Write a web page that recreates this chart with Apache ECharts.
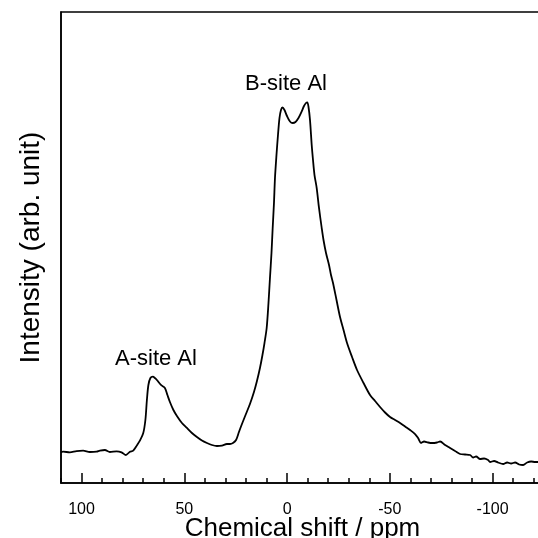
<!DOCTYPE html>
<html>
<head>
<meta charset="utf-8">
<script src="https://cdn.jsdelivr.net/npm/echarts@6/dist/echarts.min.js"></script>
<style>html,body{margin:0;padding:0;background:#fff}#c{width:538px;height:538px}</style>
</head>
<body>
<div id="c"></div>
<script>
// Chemical shift (ppm) and intensity (arb. unit, 0-100 scale)
var shiftPpm = [
  110.08, 108.96, 105.7, 102.43, 99.22, 95.96, 92.70, 91.09, 88.66, 86.22, 82.96, 80.53, 78.43, 76.48, 74.88,
  72.93, 71.62, 70.01, 68.94, 68.21, 67.48, 66.50, 65.29, 64.31, 63.34, 61.39, 59.45, 58.23, 57.01, 55.31,
  53.60, 51.17, 48.73, 46.30, 43.87, 41.43, 39.00, 36.57, 34.13, 31.70, 29.26, 27.80, 26.34, 24.83, 23.42,
  21.96, 20.02, 18.07, 16.12, 14.66, 13.20, 11.98, 11.00, 9.93, 9.05, 8.33, 7.59, 7.01, 6.38, 5.89,
  5.16, 4.43, 3.70, 2.97, 2.24, 1.27, 0.05, -1.41, -2.73, -4.09, -5.55, -7.01, -8.23, -9.20, -9.83,
  -10.42, -11.15, -11.98, -12.61, -13.34, -14.41, -15.53, -16.85, -17.72, -18.94, -20.40, -21.37, -22.35, -24.05, -25.76,
  -27.46, -29.17, -31.60, -34.03, -37.20, -40.36, -42.80, -45.23, -47.67, -50.10, -52.54, -54.97, -57.40, -59.84, -62.27,
  -63.73, -65.19, -66.65, -68.60, -70.55, -72.98, -74.44, -76.87, -79.31, -81.74, -84.17, -86.61, -89.04, -90.50, -91.96,
  -93.91, -95.86, -97.81, -98.78, -100.73, -102.67, -105.11, -107.06, -109.00, -110.95, -112.90, -114.85, -116.80, -118.75, -120.69,
  -123.13
];
var intensity = [
  6.58, 6.65, 6.52, 6.79, 6.86, 6.58, 6.65, 6.86, 7.01, 6.58, 6.73, 6.52, 5.94, 6.65, 6.86,
  8.07, 8.98, 10.55, 13.38, 17.62, 20.81, 22.29, 22.57, 22.29, 21.87, 20.81, 20.17, 18.68, 17.20, 15.50,
  14.23, 12.74, 11.68, 10.62, 9.77, 9.02, 8.49, 8.07, 7.86, 7.96, 8.28, 8.28, 8.49, 9.13, 10.83,
  12.53, 14.65, 16.77, 19.32, 21.66, 24.42, 27.18, 29.72, 32.91, 38.22, 43.52, 48.83, 54.14, 59.45, 64.76,
  69.64, 73.89, 77.49, 79.19, 79.72, 79.19, 77.92, 76.75, 76.43, 76.65, 77.49, 78.77, 80.04, 80.68, 80.83,
  79.83, 77.07, 71.76, 68.58, 65.39, 62.63, 58.39, 54.14, 51.59, 48.83, 46.28, 44.16, 42.46, 38.85, 35.24,
  32.48, 29.72, 26.75, 23.99, 21.23, 18.68, 17.41, 16.14, 14.97, 14.01, 13.38, 12.74, 12.00, 11.25, 10.40,
  9.55, 8.49, 8.81, 8.60, 8.49, 8.60, 8.81, 8.07, 7.43, 6.79, 6.16, 6.05, 5.94, 5.41, 5.63,
  5.10, 5.20, 4.88, 4.46, 4.67, 4.35, 4.03, 4.35, 4.14, 4.35, 3.93, 3.82, 4.35, 4.56, 4.46,
  4.46
];
var majorTicks = [100, 50, 0, -50, -100];
var minorTicks = [110, 90, 80, 70, 60, 40, 30, 20, 10, -10, -20, -30, -40, -60, -70, -80, -90, -110, -120];
var annotationTexts = ['A-site Al', 'B-site Al'];
var annotationPpm = [63.8, 0.5];
var annotationValue = [26.3, 84.7];

var seriesData = shiftPpm.map(function (x, i) { return [x, intensity[i]]; });
var markData = annotationTexts.map(function (t, i) {
  return { coord: [annotationPpm[i], annotationValue[i]], name: t };
});

var FONT = '"Liberation Sans", Arial, Helvetica, sans-serif';
var chart = echarts.init(document.getElementById('c'), null, { renderer: 'canvas' });
chart.setOption({
  animation: false,
  backgroundColor: '#fff',
  grid: {
    left: 61, top: 12, width: 483, height: 471,
    containLabel: false,
    outerBoundsMode: 'none',
    show: true, borderColor: '#000', borderWidth: 1.5, backgroundColor: 'transparent'
  },
  xAxis: [{
    type: 'value', inverse: true, min: -125, max: 110,
    position: 'bottom',
    name: 'Chemical shift / ppm', nameLocation: 'middle', nameGap: 33,
    nameMoveOverlap: false,
    nameTextStyle: { fontFamily: FONT, fontSize: 26, color: '#000' },
    axisLine: { show: true, onZero: false, lineStyle: { color: '#000', width: 1.5 } },
    axisTick: { show: true, inside: true, length: 10, customValues: majorTicks, lineStyle: { color: '#000', width: 1.5 } },
    axisLabel: { show: true, customValues: majorTicks, margin: 19, fontFamily: FONT, fontSize: 16, color: '#000' },
    splitLine: { show: false }
  }, {
    type: 'value', inverse: true, min: -125, max: 110,
    position: 'bottom', offset: 0,
    axisLine: { show: false },
    axisTick: { show: true, inside: true, length: 5, customValues: minorTicks, lineStyle: { color: '#000', width: 1.5 } },
    axisLabel: { show: false },
    splitLine: { show: false }
  }],
  yAxis: {
    type: 'value', min: 0, max: 100,
    name: 'Intensity (arb. unit)', nameLocation: 'middle', nameGap: 16,
    nameMoveOverlap: false,
    nameTextStyle: { fontFamily: FONT, fontSize: 28, color: '#000' },
    axisLine: { show: true, onZero: false, lineStyle: { color: '#000', width: 1.5 } },
    axisTick: { show: false },
    axisLabel: { show: false },
    splitLine: { show: false }
  },
  series: [{
    type: 'line',
    xAxisIndex: 0,
    data: seriesData,
    showSymbol: false,
    smooth: 0.3,
    lineStyle: { color: '#000', width: 1.8 },
    markPoint: {
      symbol: 'circle', symbolSize: 0,
      label: {
        show: true, position: 'inside',
        formatter: function (p) { return p.name; },
        fontFamily: FONT, fontSize: 22, color: '#000'
      },
      data: markData
    }
  }]
});
</script>
</body>
</html>
